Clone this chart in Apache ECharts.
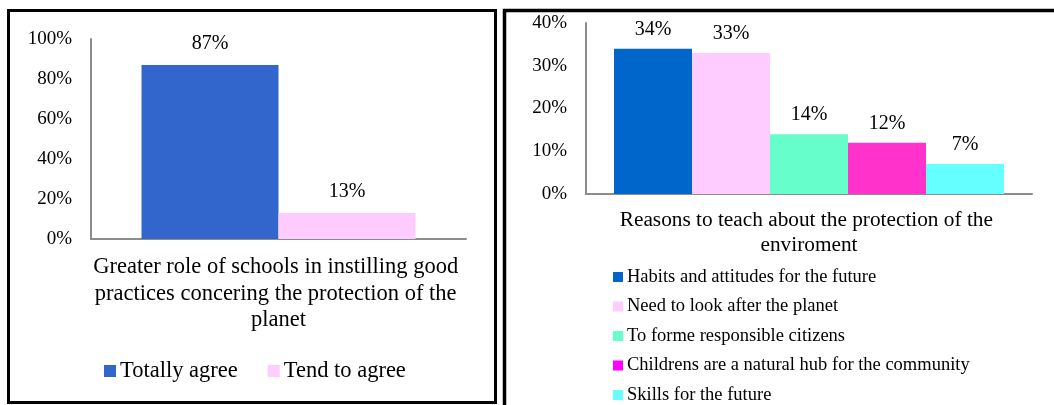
<!DOCTYPE html>
<html>
<head>
<meta charset="utf-8">
<script src="https://cdn.jsdelivr.net/npm/echarts@6/dist/echarts.min.js"></script>
<style>
html,body{margin:0;padding:0;background:#fff;}
#chart{width:1054px;height:405px;}
</style>
</head>
<body>
<div id="chart"></div>
<script>
// ---- data ----
const leftCategories = ['Greater role of schools in instilling good practices concering the protection of the planet'];
const leftSeriesNames = ['Totally agree', 'Tend to agree'];
const leftValues = [87, 13];
const leftColors = ['#3366CC', '#FFCCFF'];
const leftTicks = [0, 20, 40, 60, 80, 100];

const rightCategories = ['Reasons to teach about the protection of the enviroment'];
const rightSeriesNames = [
  'Habits and attitudes for the future',
  'Need to look after the planet',
  'To forme responsible citizens',
  'Childrens are a natural hub for the community',
  'Skills for the future'
];
const rightValues = [34, 33, 14, 12, 7];
const rightColors = ['#0066CC', '#FFCCFF', '#66FFCC', '#FF33CC', '#66FFFF'];
const rightLegendColors = ['#0066CC', '#FFCCFF', '#66FFCC', '#FF00FF', '#66FFFF'];
const rightTicks = [0, 10, 20, 30, 40];

// ---- chart ----
const FONT = 'Liberation Serif';
const chart = echarts.init(document.getElementById('chart'), null, {renderer: 'canvas'});

function labelStyle(dist) {
  return {show: true, position: 'top', distance: dist, formatter: '{c}%',
          fontFamily: FONT, fontSize: 20, color: '#000'};
}

const series = [];
leftSeriesNames.forEach((n, i) => {
  series.push({
    type: 'bar', name: n, xAxisIndex: 0, yAxisIndex: 0,
    data: [leftValues[i]], barWidth: 137, barGap: '0%',
    itemStyle: {color: leftColors[i]},
    label: labelStyle(11)
  });
});
rightSeriesNames.forEach((n, i) => {
  series.push({
    type: 'bar', name: n, xAxisIndex: 1, yAxisIndex: 1,
    data: [rightValues[i]], barWidth: 78, barGap: '0%',
    itemStyle: {color: rightColors[i]},
    label: labelStyle(9)
  });
});

const axisLine = {show: true, lineStyle: {color: '#8c8c8c', width: 2}};

const option = {
  animation: false,
  backgroundColor: '#fff',
  textStyle: {fontFamily: FONT},
  grid: [
    {left: 91, top: 39, width: 375, height: 200},
    {left: 586, top: 23, width: 446, height: 171}
  ],
  xAxis: [
    {type: 'category', gridIndex: 0, data: leftCategories,
     axisLine: axisLine, axisTick: {show: false}, splitLine: {show: false},
     axisLabel: {fontFamily: FONT, fontSize: 22.5, color: '#000', margin: 15,
                 width: 385, overflow: 'break', lineHeight: 26.5, align: 'center'}},
    {type: 'category', gridIndex: 1, data: rightCategories,
     axisLine: axisLine, axisTick: {show: false}, splitLine: {show: false},
     axisLabel: {fontFamily: FONT, fontSize: 21.3, color: '#000', margin: 14,
                 width: 440, overflow: 'break', lineHeight: 25, align: 'center'}}
  ],
  yAxis: [
    {type: 'value', gridIndex: 0, min: leftTicks[0], max: leftTicks[leftTicks.length - 1],
     interval: leftTicks[1] - leftTicks[0],
     axisLine: axisLine, axisTick: {show: false}, splitLine: {show: false},
     axisLabel: {formatter: '{value}%', fontFamily: FONT, fontSize: 19, color: '#000', margin: 19}},
    {type: 'value', gridIndex: 1, min: rightTicks[0], max: rightTicks[rightTicks.length - 1],
     interval: rightTicks[1] - rightTicks[0],
     axisLine: axisLine, axisTick: {show: false}, splitLine: {show: false},
     axisLabel: {formatter: '{value}%', fontFamily: FONT, fontSize: 19, color: '#000', margin: 19}}
  ],
  legend: [
    {data: leftSeriesNames, orient: 'horizontal', left: 104, top: 359, padding: 0,
     icon: 'rect', itemWidth: 12, itemHeight: 12, itemGap: 30,
     textStyle: {fontFamily: FONT, fontSize: 22.5, lineHeight: 24, color: '#000', padding: [0, 0, 0, -1]},
     selectedMode: false},
    {data: rightSeriesNames.map((n, i) => ({name: n, itemStyle: {color: rightLegendColors[i]}})),
     orient: 'vertical', left: 613, top: 267, padding: 0,
     icon: 'rect', itemWidth: 10, itemHeight: 10, itemGap: 9.5,
     textStyle: {fontFamily: FONT, fontSize: 18.5, lineHeight: 20, color: '#000', padding: [0, 0, 0, -1]},
     selectedMode: false}
  ],
  graphic: [
    {type: 'rect', shape: {x: 8.5, y: 10.5, width: 487, height: 392},
     style: {fill: 'none', stroke: '#000', lineWidth: 3}, silent: true, z: 100},
    {type: 'rect', shape: {x: 504.5, y: 10.5, width: 700, height: 600},
     style: {fill: 'none', stroke: '#000', lineWidth: 3.5}, silent: true, z: 100}
  ],
  series: series
};
chart.setOption(option);
</script>
</body>
</html>
